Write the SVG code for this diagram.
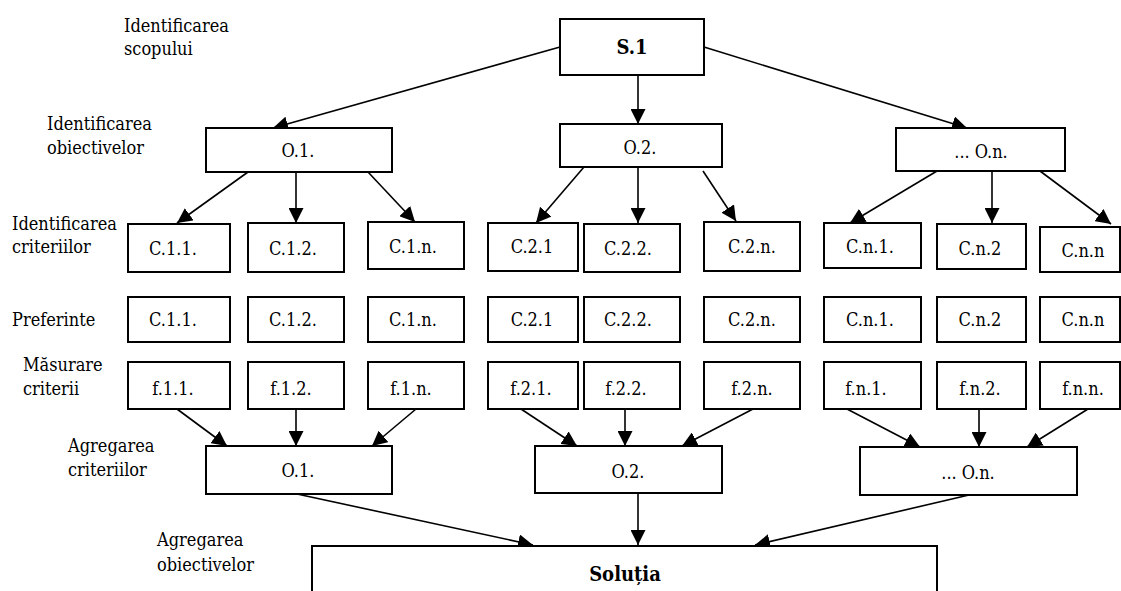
<svg xmlns="http://www.w3.org/2000/svg" width="1121" height="591" viewBox="0 0 1121 591">
<style>
.box{fill:#fff;stroke:#000;stroke-width:2}
text{font-family:'DejaVu Serif Condensed','DejaVu Serif','Liberation Serif',serif;font-stretch:condensed;font-size:18px;fill:#000}
.c{text-anchor:middle}
.b{font-weight:bold;font-size:20px}
.ln{stroke:#000;stroke-width:1.6;fill:none;marker-end:url(#ah)}
</style>
<defs>
<marker id="ah" markerUnits="userSpaceOnUse" markerWidth="15" markerHeight="15" refX="15" refY="7.5" orient="auto">
<path d="M0,0 L15,7.5 L0,15 z" fill="#000"/>
</marker>
</defs>
<rect width="1121" height="591" fill="#fff"/>
<g id="labels">
<text x="124" y="32">Identificarea</text>
<text x="124" y="55">scopului</text>
<text x="47" y="130">Identificarea</text>
<text x="47" y="154">obiectivelor</text>
<text x="12" y="230">Identificarea</text>
<text x="12" y="253">criteriilor</text>
<text x="12" y="326">Preferinte</text>
<text x="23" y="371">Măsurare</text>
<text x="23" y="395">criterii</text>
<text x="68" y="452">Agregarea</text>
<text x="68" y="476">criteriilor</text>
<text x="157" y="546">Agregarea</text>
<text x="157" y="571">obiectivelor</text>
</g>
<g id="connectors">
<line class="ln" x1="560" y1="47" x2="273" y2="128"/>
<line class="ln" x1="638" y1="75" x2="638" y2="124"/>
<line class="ln" x1="704" y1="47" x2="967" y2="128"/>
<line class="ln" x1="248" y1="172" x2="177" y2="223"/>
<line class="ln" x1="296" y1="172" x2="296" y2="223"/>
<line class="ln" x1="368" y1="172" x2="415" y2="222"/>
<line class="ln" x1="584" y1="167" x2="536" y2="223"/>
<line class="ln" x1="638" y1="167" x2="638" y2="223"/>
<line class="ln" x1="703" y1="171" x2="736" y2="221"/>
<line class="ln" x1="937" y1="171" x2="850" y2="223"/>
<line class="ln" x1="992" y1="171" x2="992" y2="223"/>
<line class="ln" x1="1040" y1="171" x2="1111" y2="224"/>
<line class="ln" x1="177" y1="409" x2="227" y2="446"/>
<line class="ln" x1="296" y1="409" x2="296" y2="446"/>
<line class="ln" x1="416" y1="409" x2="372" y2="446"/>
<line class="ln" x1="521" y1="409" x2="577" y2="446"/>
<line class="ln" x1="625" y1="409" x2="625" y2="446"/>
<line class="ln" x1="753" y1="409" x2="682" y2="446"/>
<line class="ln" x1="847" y1="409" x2="920" y2="447"/>
<line class="ln" x1="979" y1="409" x2="979" y2="447"/>
<line class="ln" x1="1088" y1="409" x2="1027" y2="447"/>
<line class="ln" x1="297" y1="494" x2="533" y2="545"/>
<line class="ln" x1="638" y1="493" x2="638" y2="545"/>
<line class="ln" x1="969" y1="495" x2="755" y2="545"/>
</g>
<g id="s1"><rect class="box" x="560" y="19" width="144" height="56"/><text class="c b" x="632" y="54">S.1</text></g>
<g id="o1"><rect class="box" x="206" y="128" width="186" height="44"/><text class="c" x="298" y="157">O.1.</text></g>
<g id="o2"><rect class="box" x="560" y="124" width="162" height="43"/><text class="c" x="640" y="154">O.2.</text></g>
<g id="on"><rect class="box" x="896" y="128" width="169" height="43"/><text class="c" x="981" y="158">... O.n.</text></g>
<g id="c11"><rect class="box" x="128" y="224" width="102" height="48"/><text class="c" x="173" y="255">C.1.1.</text></g>
<g id="c12"><rect class="box" x="248" y="223" width="96" height="49"/><text class="c" x="293" y="255">C.1.2.</text></g>
<g id="c1n"><rect class="box" x="368" y="222" width="96" height="47"/><text class="c" x="413" y="253">C.1.n.</text></g>
<g id="c21"><rect class="box" x="488" y="223" width="90" height="48"/><text class="c" x="532" y="253">C.2.1</text></g>
<g id="c22"><rect class="box" x="584" y="224" width="96" height="48"/><text class="c" x="628" y="255">C.2.2.</text></g>
<g id="c2n"><rect class="box" x="704" y="222" width="96" height="49"/><text class="c" x="752" y="253">C.2.n.</text></g>
<g id="cn1"><rect class="box" x="824" y="223" width="97" height="45"/><text class="c" x="870" y="253">C.n.1.</text></g>
<g id="cn2"><rect class="box" x="937" y="224" width="89" height="45"/><text class="c" x="980" y="255">C.n.2</text></g>
<g id="cnn"><rect class="box" x="1040" y="227" width="80" height="45"/><text class="c" x="1083" y="257">C.n.n</text></g>
<g id="p11"><rect class="box" x="128" y="297" width="102" height="45"/><text class="c" x="173" y="326">C.1.1.</text></g>
<g id="p12"><rect class="box" x="248" y="297" width="96" height="45"/><text class="c" x="293" y="326">C.1.2.</text></g>
<g id="p1n"><rect class="box" x="368" y="297" width="96" height="45"/><text class="c" x="413" y="326">C.1.n.</text></g>
<g id="p21"><rect class="box" x="488" y="297" width="90" height="45"/><text class="c" x="532" y="326">C.2.1</text></g>
<g id="p22"><rect class="box" x="584" y="297" width="96" height="45"/><text class="c" x="628" y="326">C.2.2.</text></g>
<g id="p2n"><rect class="box" x="704" y="297" width="96" height="45"/><text class="c" x="752" y="326">C.2.n.</text></g>
<g id="pn1"><rect class="box" x="824" y="297" width="97" height="45"/><text class="c" x="870" y="326">C.n.1.</text></g>
<g id="pn2"><rect class="box" x="937" y="297" width="89" height="45"/><text class="c" x="980" y="326">C.n.2</text></g>
<g id="pnn"><rect class="box" x="1040" y="297" width="80" height="45"/><text class="c" x="1083" y="326">C.n.n</text></g>
<g id="f11"><rect class="box" x="128" y="362" width="102" height="47"/><text class="c" x="173" y="395">f.1.1.</text></g>
<g id="f12"><rect class="box" x="248" y="362" width="96" height="47"/><text class="c" x="291" y="395">f.1.2.</text></g>
<g id="f1n"><rect class="box" x="368" y="362" width="96" height="47"/><text class="c" x="411" y="395">f.1.n.</text></g>
<g id="f21"><rect class="box" x="488" y="362" width="90" height="47"/><text class="c" x="531" y="395">f.2.1.</text></g>
<g id="f22"><rect class="box" x="584" y="362" width="96" height="47"/><text class="c" x="626" y="395">f.2.2.</text></g>
<g id="f2n"><rect class="box" x="704" y="362" width="96" height="47"/><text class="c" x="752" y="395">f.2.n.</text></g>
<g id="fn1"><rect class="box" x="824" y="362" width="97" height="47"/><text class="c" x="866" y="395">f.n.1.</text></g>
<g id="fn2"><rect class="box" x="937" y="362" width="89" height="47"/><text class="c" x="980" y="395">f.n.2.</text></g>
<g id="fnn"><rect class="box" x="1040" y="362" width="80" height="47"/><text class="c" x="1083" y="395">f.n.n.</text></g>
<g id="a1"><rect class="box" x="206" y="446" width="186" height="48"/><text class="c" x="298" y="477">O.1.</text></g>
<g id="a2"><rect class="box" x="535" y="446" width="187" height="47"/><text class="c" x="628" y="478">O.2.</text></g>
<g id="an"><rect class="box" x="860" y="447" width="217" height="48"/><text class="c" x="968" y="479">... O.n.</text></g>
<g id="sol"><rect class="box" x="312" y="546" width="625" height="60"/><text class="c b" x="625" y="581">Soluția</text></g>
</svg>
